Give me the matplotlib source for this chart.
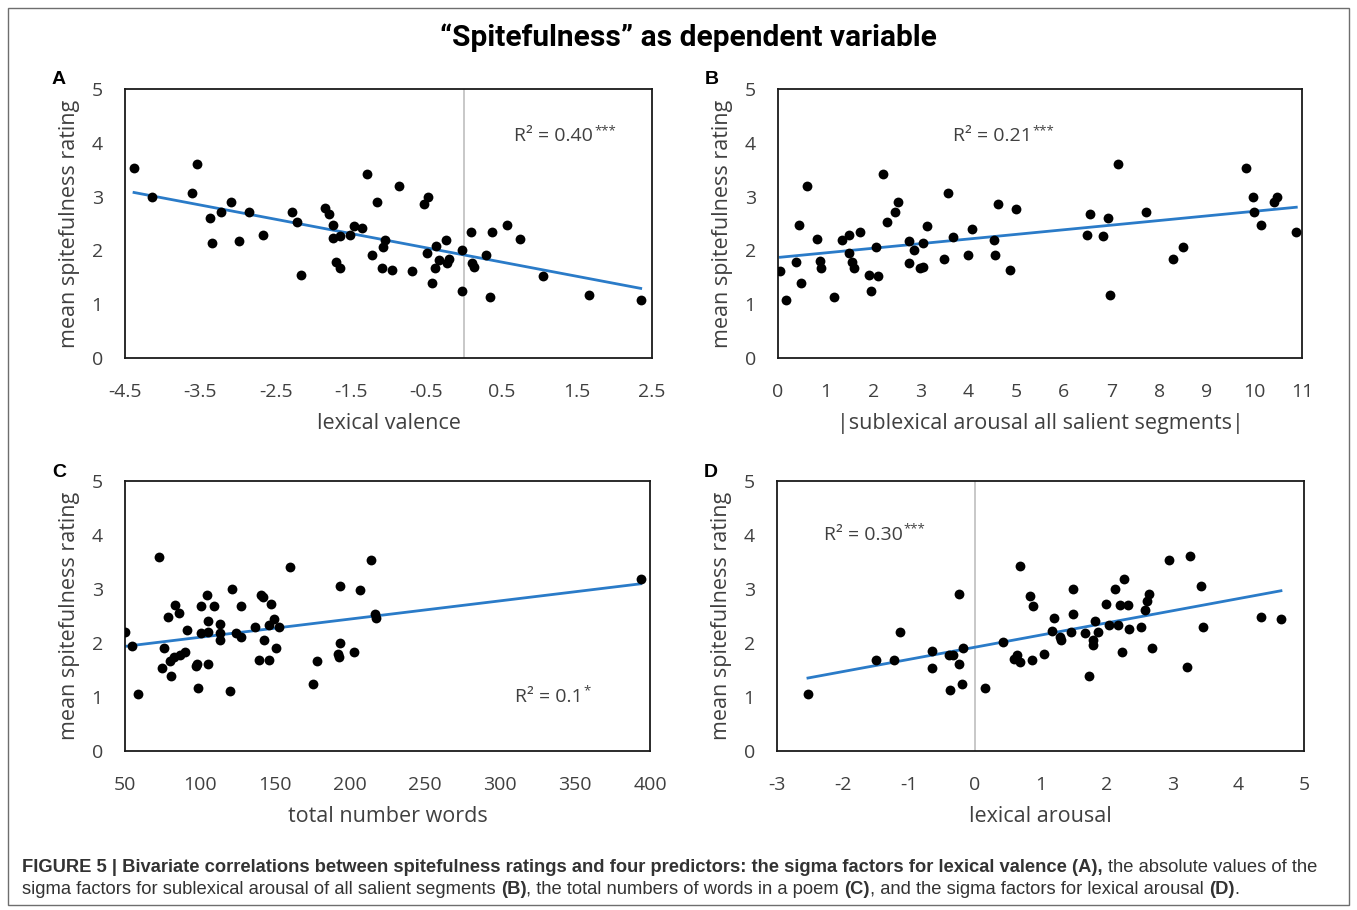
import numpy as np
import matplotlib
matplotlib.use("Agg")
import matplotlib.pyplot as plt
from matplotlib.patches import Rectangle

# --- data (mean spitefulness rating vs. predictors) ---
valence_x = [-4.38, -4.14, -3.55, -3.61, -3.37, -3.22, -3.09, -3.35, -2.98, -2.85,
             -2.67, -2.28, -2.22, -2.16, -1.84, -1.79, -1.74, -1.74, -1.64, -1.70,
             -1.64, -1.51, -1.46, -1.35, -1.28, -1.22, -1.15, -1.05, -1.07, -1.09,
             -0.95, -0.86, -0.69, -0.53, -0.47, -0.49, -0.37, -0.23, -0.33, -0.38,
             -0.42, -0.22, -0.19, -0.03, -0.03, 0.10, 0.11, 0.13, 0.30, 0.37,
             0.35, 0.57, 0.75, 1.05, 1.66, 2.35]
valence_y = [3.53, 2.99, 3.61, 3.06, 2.60, 2.72, 2.90, 2.13, 2.18, 2.71,
             2.29, 2.71, 2.53, 1.55, 2.79, 2.68, 2.48, 2.23, 2.26, 1.79,
             1.67, 2.29, 2.45, 2.41, 3.42, 1.91, 2.90, 2.20, 2.07, 1.67,
             1.64, 3.19, 1.62, 2.87, 3.00, 1.95, 2.08, 2.20, 1.83, 1.67,
             1.40, 1.77, 1.84, 2.01, 1.25, 2.35, 1.77, 1.69, 1.91, 2.34,
             1.13, 2.47, 2.21, 1.53, 1.17, 1.07]

sublex_x = [0.05, 0.16, 0.37, 0.45, 0.49, 0.61, 0.82, 0.88, 0.91, 1.18,
            1.34, 1.50, 1.48, 1.56, 1.60, 1.72, 1.91, 1.95, 2.05, 2.09,
            2.20, 2.28, 2.46, 2.51, 2.76, 2.76, 2.85, 2.98, 3.04, 3.05,
            3.13, 3.48, 3.56, 3.68, 3.99, 4.08, 4.53, 4.56, 4.61, 4.87,
            5.00, 6.49, 6.56, 6.83, 6.93, 6.96, 7.14, 7.72, 8.30, 8.51,
            9.82, 9.98, 10.00, 10.13, 10.41, 10.47, 10.88]
sublex_y = [1.62, 1.07, 1.78, 2.48, 1.40, 3.19, 2.21, 1.80, 1.68, 1.13,
            2.19, 2.29, 1.96, 1.78, 1.68, 2.35, 1.55, 1.25, 2.07, 1.53,
            3.42, 2.53, 2.71, 2.90, 2.18, 1.77, 2.00, 1.68, 1.69, 2.13,
            2.45, 1.84, 3.06, 2.24, 1.91, 2.40, 2.19, 1.91, 2.87, 1.64,
            2.77, 2.29, 2.67, 2.26, 2.60, 1.17, 3.61, 2.72, 1.84, 2.07,
            3.53, 3.00, 2.71, 2.47, 2.90, 3.00, 2.34]

words_x = [50, 54.7, 58.6, 72.4, 74.8, 75.8, 78.8, 80.0, 80.7, 83.4,
           85.7, 82.7, 86.6, 89.8, 91.6, 97.0, 98.0, 98.7, 100.9, 100.9,
           104.8, 105.3, 105.3, 105.6, 109.5, 113.2, 113.5, 113.5, 119.8, 121.6,
           124.3, 127.0, 127.0, 136.6, 139.3, 140.5, 142.2, 142.5, 145.9, 146.2,
           147.6, 149.4, 150.8, 152.8, 159.9, 175.4, 177.9, 191.9, 192.9, 193.6,
           193.6, 202.7, 206.9, 213.8, 216.5, 217.5, 393.8]
words_y = [2.20, 1.94, 1.06, 3.60, 1.53, 1.90, 2.48, 1.67, 1.38, 2.71,
           2.56, 1.75, 1.78, 1.83, 2.25, 1.57, 1.61, 1.16, 2.68, 2.18,
           2.89, 2.40, 2.21, 1.62, 2.69, 2.35, 2.18, 2.06, 1.12, 3.00,
           2.18, 2.68, 2.12, 2.29, 1.69, 2.89, 2.86, 2.06, 1.69, 2.34,
           2.73, 2.45, 1.90, 2.29, 3.41, 1.24, 1.67, 1.80, 1.75, 2.00,
           3.06, 1.83, 2.99, 3.53, 2.53, 2.46, 3.19]

arousal_x = [-2.53, -1.50, -1.23, -1.14, -0.65, -0.64, -0.39, -0.33, -0.38, -0.23,
             -0.23, -0.19, -0.18, 0.16, 0.43, 0.60, 0.64, 0.69, 0.69, 0.84,
             0.88, 0.87, 1.05, 1.17, 1.20, 1.30, 1.31, 1.46, 1.49, 1.49,
             1.68, 1.74, 1.80, 1.80, 1.83, 1.88, 1.99, 2.04, 2.13, 2.17,
             2.20, 2.24, 2.27, 2.33, 2.35, 2.52, 2.58, 2.61, 2.65, 2.70,
             2.95, 3.23, 3.27, 3.43, 3.46, 4.35, 4.65]
arousal_y = [1.06, 1.68, 1.68, 2.21, 1.85, 1.53, 1.78, 1.78, 1.13, 2.90,
             1.61, 1.24, 1.90, 1.17, 2.01, 1.71, 1.78, 1.64, 3.42, 2.87,
             2.68, 1.68, 1.79, 2.22, 2.47, 2.12, 2.06, 2.20, 2.53, 3.00,
             2.18, 1.38, 2.06, 1.96, 2.41, 2.20, 2.73, 2.34, 3.00, 2.34,
             2.71, 1.84, 3.19, 2.71, 2.26, 2.30, 2.61, 2.78, 2.90, 1.90,
             3.53, 1.55, 3.61, 3.06, 2.30, 2.48, 2.45]

panel_letters = ["A", "B", "C", "D"]
x_labels = ["lexical valence", "|sublexical arousal all salient segments|",
            "total number words", "lexical arousal"]
r2_labels = ["R² = 0.40", "R² = 0.21", "R² = 0.1", "R² = 0.30"]
r2_stars = ["***", "***", "*", "***"]
r2_pos = [(0.67, 4.12), (3.67, 4.12), (310, 1.0), (-2.29, 4.0)]
x_limits = [(-4.5, 2.5), (0, 11), (50, 400), (-3, 5)]
x_ticks = [np.arange(-4.5, 2.6, 1.0), np.arange(0, 12, 1), np.arange(50, 401, 50), np.arange(-3, 6, 1)]
x_tick_labels = [["-4.5", "-3.5", "-2.5", "-1.5", "-0.5", "0.5", "1.5", "2.5"],
                 [str(v) for v in range(0, 12)],
                 [str(v) for v in range(50, 401, 50)],
                 [str(v) for v in range(-3, 6)]]
zero_line = [True, False, False, True]

title = "\u201cSpitefulness\u201d as dependent variable"
caption_lines = [
    [("FIGURE 5 | Bivariate correlations between spitefulness ratings and four predictors: "
      "the sigma factors for lexical valence (A),", "bold"), (" the absolute values of the", "normal")],
    [("sigma factors for sublexical arousal of all salient segments ", "normal"), ("(B)", "bold"),
     (", the total numbers of words in a poem ", "normal"), ("(C)", "bold"),
     (", and the sigma factors for lexical arousal ", "normal"), ("(D)", "bold"), (".", "normal")],
]

# --- styling ---
W, H = 1357, 910
plt.rcParams['font.family'] = ['Open Sans', 'DejaVu Sans']
TXT = '#404040'
TREND = '#2a7bc8'

fig = plt.figure(figsize=(W / 100, H / 100), dpi=100)
fig.patch.set_facecolor('white')
renderer = fig.canvas.get_renderer()

# outer frame
fig.add_artist(Rectangle((8 / W, 1 - 905 / H), (1349 - 8) / W, (905 - 8) / H,
                         transform=fig.transFigure, fill=False, edgecolor='#6e6e6e', lw=1.0))

# axes rectangles in pixels (left, top, right, bottom)
boxes = [(125, 89, 652, 358), (778, 89, 1302, 358), (125, 481, 650, 751), (777, 481, 1304, 751)]
datasets = [(valence_x, valence_y), (sublex_x, sublex_y), (words_x, words_y), (arousal_x, arousal_y)]

for i, (l, t, r, b) in enumerate(boxes):
    ax = fig.add_axes([l / W, 1 - b / H, (r - l) / W, (b - t) / H])
    x = np.array(datasets[i][0])
    y = np.array(datasets[i][1])
    if zero_line[i]:
        ax.axvline(0, color='#bfbfbf', lw=1.2, zorder=1)
    ax.scatter(x, y, s=50, color='black', zorder=3, linewidths=0)
    k, c = np.polyfit(x, y, 1)
    xs = np.array([x.min(), x.max()])
    ax.plot(xs, k * xs + c, color=TREND, lw=2.0, zorder=2)
    ax.set_xlim(*x_limits[i])
    ax.set_ylim(0, 5)
    ax.set_xticks(x_ticks[i])
    ax.set_xticklabels(x_tick_labels[i])
    ax.set_yticks(range(0, 6))
    ax.tick_params(axis='x', length=0, labelsize=14, labelcolor=TXT, pad=18)
    ax.tick_params(axis='y', length=0, labelsize=14, labelcolor=TXT, pad=16)
    for s in ax.spines.values():
        s.set_color('#1a1a1a')
        s.set_linewidth(1.3)
    ax.set_xlabel(x_labels[i], fontsize=15.5, color=TXT, labelpad=9)
    ax.set_ylabel("mean spitefulness rating", fontsize=15.5, color=TXT, labelpad=8)
    r2 = ax.text(*r2_pos[i], r2_labels[i], fontsize=14, color=TXT, ha='left', va='center')
    ext = r2.get_window_extent(renderer)
    fig.text((ext.x1 + 1) / W, (ext.y1 - 3) / H, r2_stars[i], fontsize=9.5, color=TXT,
             ha='left', va='center')
    fig.text((l - 73) / W, 1 - (t - 9) / H, panel_letters[i], fontsize=14, fontweight='bold',
             family='Liberation Sans', ha='left', va='center')

fig.text(688 / W, 1 - 38 / H, title, fontsize=21.5, fontweight='bold',
         family=['Roboto', 'DejaVu Sans'], ha='center', va='center')

# caption with mixed bold / regular runs
cap_kw = dict(fontsize=13.2, color='#333333', family=['Liberation Sans', 'DejaVu Sans'],
              va='center', ha='left')
probe1 = fig.text(0, 0, "a a", **cap_kw)
probe2 = fig.text(0, 0, "aa", **cap_kw)
space_w = probe1.get_window_extent(renderer).width - probe2.get_window_extent(renderer).width
probe1.remove()
probe2.remove()
for row, pieces in enumerate(caption_lines):
    xpix = 22
    ypix = 868 + row * 22
    for txt, weight in pieces:
        lead = len(txt) - len(txt.lstrip(' '))
        trail = len(txt) - len(txt.rstrip(' '))
        xpix += lead * space_w
        tt = fig.text(xpix / W, 1 - ypix / H, txt.strip(' '), fontweight=weight, **cap_kw)
        xpix += tt.get_window_extent(renderer).width + trail * space_w

fig.savefig("out.png", dpi=100, facecolor='white')
